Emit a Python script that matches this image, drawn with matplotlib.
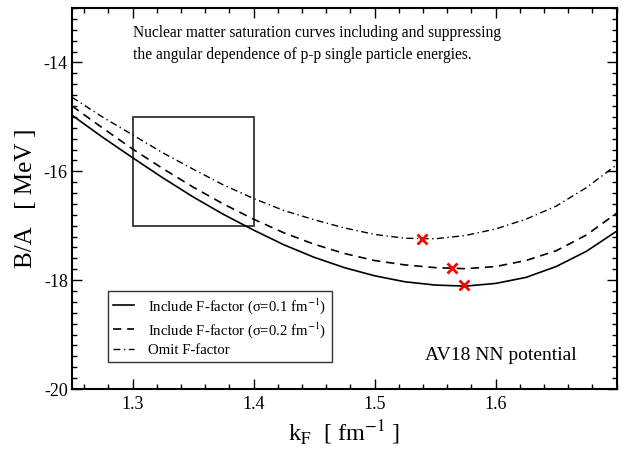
import matplotlib
matplotlib.use("Agg")
import matplotlib.pyplot as plt
from matplotlib.ticker import MultipleLocator
from matplotlib.patches import Rectangle

plt.rcParams['font.family'] = ['Liberation Serif', 'DejaVu Serif']
plt.rcParams['mathtext.fontset'] = 'stix'

kf = [1.25, 1.275, 1.30, 1.325, 1.35, 1.375, 1.40, 1.425, 1.45, 1.475,
      1.50, 1.525, 1.55, 1.575, 1.60, 1.625, 1.65, 1.675, 1.70]
ba_sigma01 = [-14.97, -15.37, -15.75, -16.12, -16.47, -16.79, -17.08, -17.35, -17.58, -17.77,
              -17.92, -18.03, -18.09, -18.11, -18.06, -17.95, -17.75, -17.47, -17.10]
ba_sigma02 = [-14.80, -15.20, -15.59, -15.95, -16.29, -16.60, -16.88, -17.13, -17.34, -17.51,
              -17.64, -17.72, -17.77, -17.79, -17.75, -17.64, -17.46, -17.17, -16.77]
ba_omit = [-14.64, -15.00, -15.33, -15.66, -15.96, -16.25, -16.50, -16.72, -16.89, -17.04,
           -17.16, -17.23, -17.24, -17.18, -17.06, -16.88, -16.64, -16.30, -15.88]

sat_kf = [1.5736, 1.5636, 1.539]
sat_ba = [-18.09, -17.78, -17.24]

labels = ["Include F-factor (σ=0.1 fm$^{-1}$)",
          "Include F-factor (σ=0.2 fm$^{-1}$)",
          "Omit F-factor"]

fig = plt.figure(figsize=(6.27, 4.5), dpi=100)
ax = fig.add_axes([72/627, 1-389/450, (616.7-72)/627, (389-8)/450])

ax.plot(kf, ba_sigma01, color='black', lw=1.2, ls='-', label=labels[0])
ax.plot(kf, ba_sigma02, color='black', lw=1.2, ls=(0, (5, 3.5)), label=labels[1])
ax.plot(kf, ba_omit, color='black', lw=1.0, ls=(0, (5, 2.5, 1, 2.5)), label=labels[2])
ax.plot(sat_kf, sat_ba, ls='none', marker='x', color='red', ms=7.5, mew=2)

ax.add_patch(Rectangle((1.3, -17.0), 0.1, 2.0, fill=False, ec='#333333', lw=1.3))

ax.set_xlim(1.25, 1.70)
ax.set_ylim(-20, -13)
ax.xaxis.set_major_locator(MultipleLocator(0.1))
ax.xaxis.set_minor_locator(MultipleLocator(0.02))
ax.yaxis.set_major_locator(MultipleLocator(2))
ax.yaxis.set_minor_locator(MultipleLocator(0.2))
ax.set_xticks([1.3, 1.4, 1.5, 1.6])
ax.set_xticklabels(['1.3', '1.4', '1.5', '1.6'])
ax.set_yticks([-20, -18, -16, -14])
ax.set_yticklabels(['-20', '-18', '-16', '-14'])
ax.tick_params(which='both', direction='in', top=True, right=True, width=1.0)
ax.tick_params(which='major', length=7.5, labelsize=13)
ax.tick_params(axis='y', which='major', pad=3)
ax.tick_params(axis='x', which='major', pad=5)
ax.tick_params(which='minor', length=3.8)
for s in ax.spines.values():
    s.set_linewidth(1.5)

leg = ax.legend(loc='upper left', bbox_to_anchor=((108-72)/(616.7-72), (389-291)/381),
                fontsize=10.6, frameon=True, fancybox=False, edgecolor='black',
                handlelength=1.4, handletextpad=1.0, borderpad=0.35, labelspacing=0.28,
                borderaxespad=0)
leg.get_frame().set_linewidth(1.0)

fig.text(26/627, 1-198/450, "B/A   [ MeV ]", rotation=90, ha='center', va='center', fontsize=18)
fig.text(344/627, 1-433/450, r"k$_\mathrm{F}$  [ fm$^{-1}$ ]", ha='center', va='center', fontsize=17.5)
fig.text(133/627, 1-33/450, "Nuclear matter saturation curves including and suppressing",
         ha='left', va='center', fontsize=11.2)
fig.text(133/627, 1-55/450, "the angular dependence of p-p single particle energies.",
         ha='left', va='center', fontsize=11.2)
fig.text(425/627, 1-355/450, "AV18 NN potential", ha='left', va='center', fontsize=14)

fig.savefig("out.png", dpi=100)
